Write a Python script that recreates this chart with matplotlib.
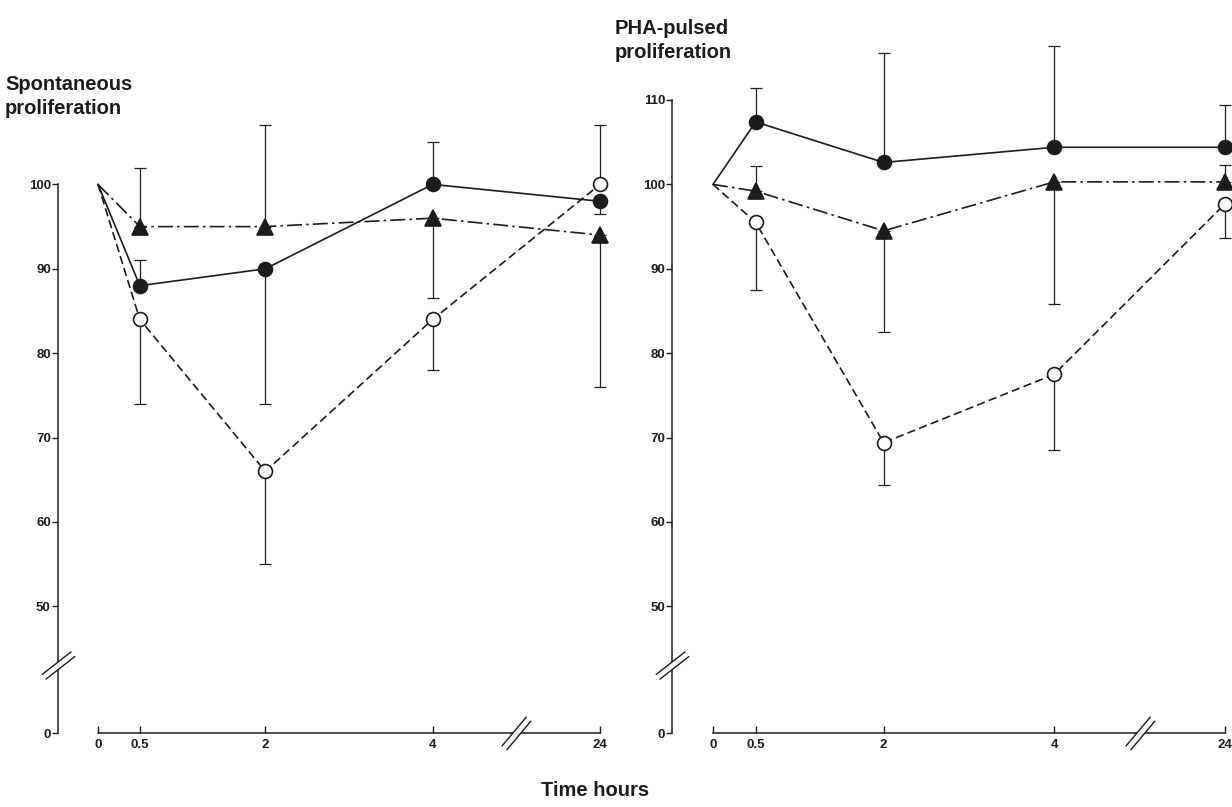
import numpy as np
import matplotlib
matplotlib.use('Agg')
import matplotlib.pyplot as plt
from matplotlib import transforms
from matplotlib.path import Path

plt.rcParams['font.family'] = ['Liberation Sans', 'DejaVu Sans']

# data (hours after treatment, % of control)
hours = [0, 0.5, 2, 4, 24]
tick_hours = [0, 0.5, 2, 4, 24]
tick_hour_labels = ['0', '0.5', '2', '4', '24']

spont_filled = [100, 88, 90, 100, 98]
spont_filled_lo = [0, 0, 16, 0, 1.5]
spont_filled_hi = [0, 3, 0, 5, 0]
spont_tri = [100, 95, 95, 96, 94]
spont_tri_lo = [0, 0, 0, 9.5, 18]
spont_tri_hi = [0, 7, 12, 0, 0]
spont_open = [100, 84, 66, 84, 100]
spont_open_lo = [0, 10, 11, 6, 0]
spont_open_hi = [0, 0, 0, 0, 7]

pha_filled = [100, 107.4, 102.6, 104.4, 104.4]
pha_filled_lo = [0, 0, 0, 0, 0]
pha_filled_hi = [0, 4, 13, 12, 5]
pha_tri = [100, 99.2, 94.5, 100.3, 100.3]
pha_tri_lo = [0, 0, 12, 14.5, 0]
pha_tri_hi = [0, 3, 0, 0, 2]
pha_open = [100, 95.5, 69.4, 77.5, 97.7]
pha_open_lo = [0, 8, 5, 9, 4]
pha_open_hi = [0, 0, 0, 0, 0]

spont_yticks = [0, 50, 60, 70, 80, 90, 100]
pha_yticks = [0, 50, 60, 70, 80, 90, 100, 110]

INK = '#1c1c1c'


# broken axes: hours beyond 4 compressed, values below 50 compressed
def fwd_x(x):
    x = np.asarray(x, float)
    return np.where(x <= 4, x, 4 + (x - 4) / 10.0)


def inv_x(p):
    p = np.asarray(p, float)
    return np.where(p <= 4, p, 4 + (p - 4) * 10.0)


def fwd_y(v):
    v = np.asarray(v, float)
    return np.where(v >= 50, v, 35 + v * 0.3)


def inv_y(d):
    d = np.asarray(d, float)
    return np.where(d >= 50, d, (d - 35) / 0.3)


def slash_marker(dx, dy, sep):
    # two parallel strokes
    n = np.array([-dy, dx]) * sep
    d = np.array([dx, dy])
    a0, a1 = -d + n, d + n
    b0, b1 = -d - n, d - n
    lines = Path([a0, a1, b0, b1], [Path.MOVETO, Path.LINETO, Path.MOVETO, Path.LINETO])
    fill = Path([a0, a1, b1, b0, a0], [Path.MOVETO, Path.LINETO, Path.LINETO, Path.LINETO, Path.CLOSEPOLY])
    return lines, fill


def draw_break(ax, x, y, trans, angle_deg, size):
    t = np.radians(angle_deg)
    lines, fill = slash_marker(np.cos(t), np.sin(t), 0.16)
    ax.plot([x], [y], marker=fill, markersize=size, markerfacecolor='white',
            markeredgewidth=0, linestyle='none', transform=trans, clip_on=False, zorder=6)
    ax.plot([x], [y], marker=lines, markersize=size, markeredgecolor=INK,
            markeredgewidth=1.0, linestyle='none', transform=trans, clip_on=False, zorder=7)


def panel(ax, series, ytop, yticks, spine_out):
    ax.set_xscale('function', functions=(fwd_x, inv_x))
    ax.set_yscale('function', functions=(fwd_y, inv_y))
    ax.set_xlim(0, 24)
    ax.set_ylim(0, 110)

    for vals, lo, hi, marker, face, ls, ms in series:
        ax.errorbar(hours[1:], vals[1:], yerr=[lo[1:], hi[1:]], fmt='none',
                    ecolor=INK, elinewidth=0.9, capsize=4, capthick=0.9,
                    clip_on=False, zorder=2)
        ax.plot(hours, vals, color=INK, linestyle=ls, linewidth=1.2,
                marker=marker, markevery=slice(1, None), markersize=ms,
                markerfacecolor=face, markeredgecolor=INK, markeredgewidth=1.2,
                clip_on=False, zorder=4)

    for s in ['top', 'right']:
        ax.spines[s].set_visible(False)
    ax.spines['left'].set_position(('outward', spine_out))
    ax.spines['left'].set_bounds(0, ytop)
    ax.spines['bottom'].set_bounds(0, 24)
    for s in ['left', 'bottom']:
        ax.spines[s].set_linewidth(1.1)
        ax.spines[s].set_color(INK)

    ax.set_xticks(tick_hours)
    ax.set_xticklabels(tick_hour_labels)
    ax.set_yticks(yticks)
    ax.set_yticklabels([str(v) for v in yticks])
    ax.tick_params(axis='x', direction='in', length=5, width=1.0, pad=4,
                   labelsize=9.5, colors=INK)
    ax.tick_params(axis='y', direction='out', length=4, width=1.0, pad=1,
                   labelsize=9.5, colors=INK)
    for lab in ax.get_xticklabels() + ax.get_yticklabels():
        lab.set_fontweight('bold')

    # y-axis break
    ytrans = transforms.blended_transform_factory(ax.transAxes, ax.transData) + \
        transforms.ScaledTranslation(-spine_out / 72.0, 0, ax.figure.dpi_scale_trans)
    draw_break(ax, 0, 27, ytrans, 38, 24)
    # x-axis break
    xtrans = transforms.blended_transform_factory(ax.transData, ax.transAxes)
    draw_break(ax, 14, 0, xtrans, 50, 24)


fig = plt.figure(figsize=(12.32, 8.07), dpi=100)

ax1 = fig.add_axes([98 / 1232, 74 / 807, 502 / 1232, 633 / 807])
ax2 = fig.add_axes([713 / 1232, 74 / 807, 512 / 1232, 633 / 807])

panel(ax1, [
    (spont_tri, spont_tri_lo, spont_tri_hi, '^', INK, (0, (9, 2.5, 1.5, 2.5)), 11),
    (spont_filled, spont_filled_lo, spont_filled_hi, 'o', INK, '-', 10),
    (spont_open, spont_open_lo, spont_open_hi, 'o', 'white', (0, (5, 2.5)), 10),
], 100, spont_yticks, 29)

panel(ax2, [
    (pha_tri, pha_tri_lo, pha_tri_hi, '^', INK, (0, (9, 2.5, 1.5, 2.5)), 11),
    (pha_filled, pha_filled_lo, pha_filled_hi, 'o', INK, '-', 10),
    (pha_open, pha_open_lo, pha_open_hi, 'o', 'white', (0, (5, 2.5)), 10),
], 110, pha_yticks, 29.5)

fig.text(5 / 1232, 1 - 75 / 807, 'Spontaneous\nproliferation', ha='left', va='top',
         fontsize=14.5, fontweight='bold', color=INK, linespacing=1.3)
fig.text(615 / 1232, 1 - 19 / 807, 'PHA-pulsed\nproliferation', ha='left', va='top',
         fontsize=14.5, fontweight='bold', color=INK, linespacing=1.3)
fig.text(595 / 1232, 1 - 790 / 807, 'Time hours', ha='center', va='center',
         fontsize=14.5, fontweight='bold', color=INK)

fig.savefig('out.png', dpi=100, facecolor='white')
